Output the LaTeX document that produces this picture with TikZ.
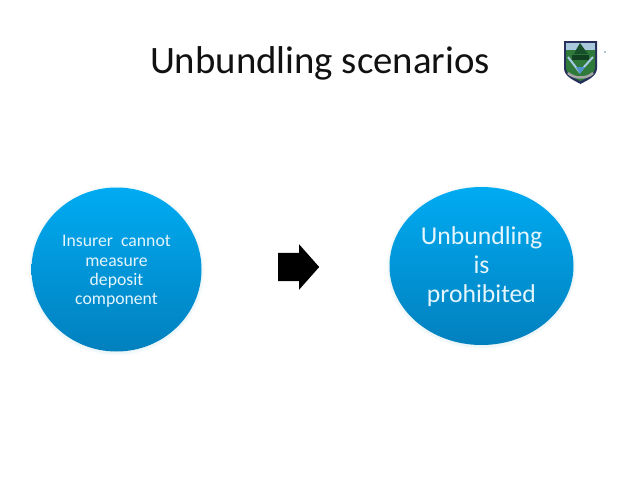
\documentclass[tikz,border=0pt]{standalone}
\usepackage{fontspec}
\setmainfont{Carlito}
\usetikzlibrary{shapes.geometric,shapes.arrows}

\tikzset{
  bubble/.style={ellipse, inner sep=0pt, top color=bubbletop, bottom color=bubblebot, text=bubbletext, align=center},
  bubbleglow/.style={ellipse, inner sep=0pt, fill=bubblebot, opacity=0.025}
}
\definecolor{bubbletop}{HTML}{00ABF2}
\definecolor{bubblebot}{HTML}{0280BE}
\definecolor{bubbletext}{HTML}{E4F5FC}
\definecolor{titleblack}{HTML}{111111}
\definecolor{crestnavy}{HTML}{27305A}
\definecolor{crestgreen}{HTML}{2F7A3A}
\definecolor{crestdark}{HTML}{17502A}
\definecolor{crestsky}{HTML}{A9C8DE}
\definecolor{crestblue}{HTML}{4F93C8}

\begin{document}
\begin{tikzpicture}[x=1pt,y=-1pt]
\useasboundingbox (0,0) rectangle (638,479);
\fill[white] (0,0) rectangle (638,479);

% Title
\node[text=titleblack, font=\fontsize{38.8}{44}\selectfont, anchor=base] (title) at (320,73) {Unbundling scenarios};

% Soft edge of the bubbles
\foreach \grow in {1,2,3}{
  \node[bubbleglow, minimum width=170pt+\grow*2pt, minimum height=164pt+\grow*2pt] at (116.5,270.5) {};
  \node[bubbleglow, minimum width=184pt+\grow*2pt, minimum height=158pt+\grow*2pt] at (481.5,267) {};
}

% Bubbles
\node[bubble, minimum width=170pt, minimum height=164pt] (cannot) at (116.5,269.5) {};
\node[font=\fontsize{17.7}{19.3}\selectfont, text=bubbletext, align=center, inner sep=0pt] (cannotlabel) at (116.5,271.5)
  {Insurer\ \ cannot\\measure\\deposit\\component};
\node[bubble, minimum width=184pt, minimum height=158pt] (prohibited) at (481.5,266) {};
\node[font=\fontsize{25.7}{28.7}\selectfont, text=bubbletext, align=center, inner sep=0pt] (prohibitedlabel) at (481.5,266.5)
  {Unbundling\\is\\prohibited};

% Arrow
\node[single arrow, fill=black, inner xsep=0pt, inner ysep=14pt, minimum width=45pt, minimum height=41pt,
  single arrow head extend=8.5pt, single arrow tip angle=97, anchor=tail] (implies) at (278,267) {};

% Crest
\fill[crestnavy] (564,41) -- (597,41) -- (597,68) .. controls (597,76) and (588,80) .. (580.5,84)
  .. controls (573,80) and (564,76) .. (564,68) -- cycle;
\fill[crestgreen] (566,43) -- (595,43) -- (595,68) .. controls (595,74) and (587,78) .. (580.5,81)
  .. controls (574,78) and (566,74) .. (566,68) -- cycle;
\fill[crestsky] (566,43) rectangle (595,50);
\fill[crestdark] (580,43) -- (585,50) -- (588,54) -- (574,54) -- (576,50) -- cycle;
\fill[crestdark!80!black] (572,55) rectangle (589,60);
\draw[crestblue!50!white, line width=2pt] (568,57) -- (579.5,72) -- (593,57);
\fill[crestblue] (576,67) -- (580,74) -- (585,67) -- cycle;
\draw[gray!70, line width=2.5pt] (568,73) .. controls (574,79) and (587,79) .. (593,73);
\fill[crestblue!70!gray] (605,52) circle (0.8pt);

\end{tikzpicture}
\end{document}
